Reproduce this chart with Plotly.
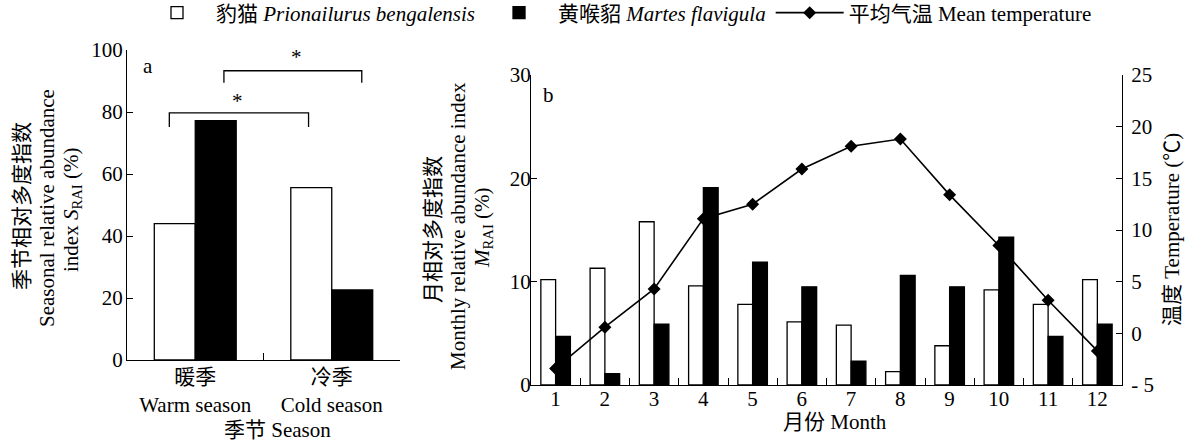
import plotly.graph_objects as go

W, H = 1191, 443

# ---- data ----
seasons = ["暖季<br>Warm season", "冷季<br>Cold season"]
season_cat = [44.0, 55.6]      # Prionailurus bengalensis
season_marten = [77.2, 22.6]   # Martes flavigula

months = ["1", "2", "3", "4", "5", "6", "7", "8", "9", "10", "11", "12"]
month_cat = [10.2, 11.3, 15.8, 9.6, 7.8, 6.1, 5.8, 1.3, 3.8, 9.2, 7.8, 10.2]
month_marten = [4.7, 1.1, 5.9, 19.1, 11.9, 9.5, 2.3, 10.6, 9.5, 14.3, 4.7, 5.9]
mean_temp = [-3.4, 0.6, 4.3, 11.1, 12.5, 15.9, 18.1, 18.8, 13.4, 8.5, 3.2, -1.7]

temp_ticks = [-5, 0, 5, 10, 15, 20, 25]
temp_ticktext = ["- 5", "0", "5", "10", "15", "20", "25"]

# significance brackets (panel a): x0, x1 (category units), y top, y leg end
brackets = [(-0.19, 0.83, 79.7, 75.2), (0.21, 1.22, 93.3, 89.4)]
stars = [(0.31, 83.5), (0.74, 97.6)]

FONT = "Liberation Serif, Times New Roman, Noto Sans CJK SC, serif"
CLEAR = "rgba(255,255,255,0)"
LW = 1.3

fig = go.Figure()

# panel a bars
fig.add_trace(go.Bar(x=seasons, y=season_cat, xaxis="x", yaxis="y",
                     marker=dict(color=CLEAR, line=dict(color="black", width=LW)),
                     showlegend=False, legendgroup="cat"))
fig.add_trace(go.Bar(x=seasons, y=season_marten, xaxis="x", yaxis="y",
                     marker=dict(color="black", line=dict(color="black", width=LW)),
                     showlegend=False, legendgroup="marten"))

# panel b temperature line (base axis, drawn below bars)
fig.add_trace(go.Scatter(x=months, y=mean_temp, xaxis="x2", yaxis="y3",
                         mode="lines+markers",
                         line=dict(color="black", width=1.6),
                         marker=dict(symbol="diamond", size=10, color="black"),
                         name="平均气温 Mean temperature", legendrank=3))
# panel b bars (overlay axis, drawn above line)
fig.add_trace(go.Bar(x=months, y=month_cat, xaxis="x2", yaxis="y4",
                     marker=dict(color=CLEAR, line=dict(color="black", width=LW)),
                     name="豹猫 <i>Prionailurus bengalensis</i>",
                     legendgroup="cat", legendrank=1))
fig.add_trace(go.Bar(x=months, y=month_marten, xaxis="x2", yaxis="y4",
                     marker=dict(color="black", line=dict(color="black", width=LW)),
                     name="黄喉貂 <i>Martes flavigula</i>",
                     legendgroup="marten", legendrank=2))

axis_common = dict(showline=True, linecolor="black", linewidth=LW, ticks="inside",
                   tickcolor="black", tickwidth=LW, showgrid=False, zeroline=False,
                   tickfont=dict(family=FONT, size=21, color="black"), automargin=False)

fig.update_layout(
    width=W, height=H,
    margin=dict(l=0, r=0, t=0, b=0, autoexpand=False),
    paper_bgcolor="white", plot_bgcolor="rgba(0,0,0,0)",
    font=dict(family=FONT, size=20, color="black"),
    barmode="group", bargap=0.4, bargroupgap=0,
    xaxis=dict(domain=[127 / W, 400 / W], anchor="y", type="category",
               range=[-0.5, 1.5], tickson="boundaries", ticklen=7,
               ticklabelstandoff=-2, **axis_common),
    yaxis=dict(domain=[1 - 360 / H, 1 - 50 / H], anchor="x", range=[0, 100],
               dtick=20, ticklen=6, ticklabelstandoff=-1, **axis_common),
    xaxis2=dict(domain=[531 / W, 1122 / W], anchor="y3", type="category",
                range=[-0.5, 11.5], tickson="boundaries", ticklen=7,
                ticklabelstandoff=-5, **axis_common),
    yaxis3=dict(domain=[1 - 385 / H, 1 - 75 / H], anchor="x2", side="right",
                range=[-5, 25], tickvals=temp_ticks, ticktext=temp_ticktext,
                ticklen=6, ticklabelstandoff=4, **axis_common),
    yaxis4=dict(overlaying="y3", anchor="x2", side="left", range=[0, 30],
                dtick=10, ticklen=6, ticklabelstandoff=-5, **axis_common),
    legend=dict(orientation="h", x=138 / W, xanchor="left", y=1 - 13 / H,
                yanchor="middle",
                font=dict(family=FONT, size=21, color="black"),
                itemwidth=68, bgcolor="rgba(0,0,0,0)", traceorder="normal"),
)

# brackets and stars
for x0, x1, ytop, yleg in brackets:
    fig.add_shape(type="path", xref="x", yref="y",
                  path=f"M {x0},{yleg} L {x0},{ytop} L {x1},{ytop} L {x1},{yleg}",
                  line=dict(color="black", width=LW))
for sx, sy in stars:
    fig.add_annotation(x=sx, y=sy, xref="x", yref="y", text="*", showarrow=False,
                       font=dict(size=21), yanchor="middle")


def ann(text, px, py, angle=0, size=21):
    fig.add_annotation(x=px / W, y=1 - py / H, xref="paper", yref="paper", text=text,
                       showarrow=False, textangle=angle, xanchor="center",
                       yanchor="middle", font=dict(family=FONT, size=size, color="black"))


# panel labels
ann("a", 148, 66)
ann("b", 548, 95)

# axis titles panel a
ann("季节相对多度指数", 22, 206, -90)
ann("Seasonal relative abundance", 47, 208, -90)
ann("index <i>S</i><sub>RAI</sub> (%)", 72, 210, -90)
ann("季节 Season", 277, 430)

# axis titles panel b
ann("月相对多度指数", 433, 230, -90)
ann("Monthly relative abundance index", 458, 226, -90)
ann("<i>M</i><sub>RAI</sub> (%)", 483, 228, -90)
ann("月份 Month", 835, 422)
ann("温度 Temperature (℃)", 1172, 230, -90)

fig.write_html("out.html", config={"displayModeBar": False},
               post_script="document.body.style.margin='0px';")
